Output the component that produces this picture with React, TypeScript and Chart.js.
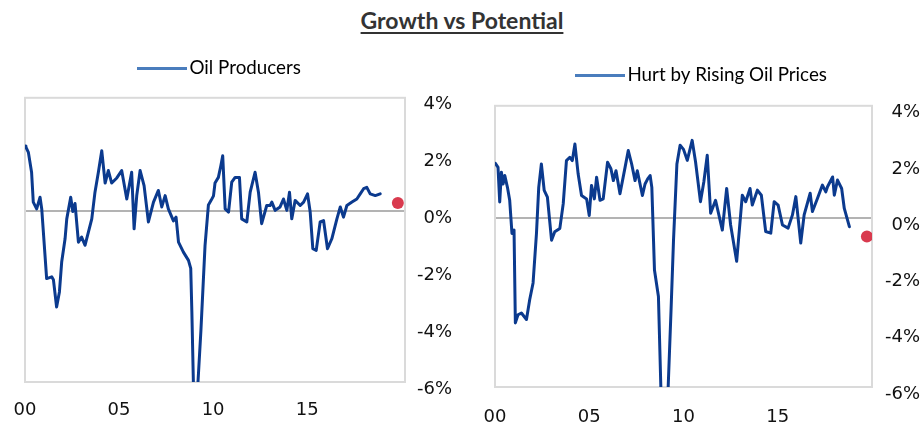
import React, { useEffect, useRef } from 'react';
import { Chart, registerables } from 'chart.js';

Chart.register(...registerables);

// ---- data ----
const TITLE = 'Growth vs Potential';
const X_TICK_YEARS = [2000, 2005, 2010, 2015];
const Y_MIN = -6;
const Y_MAX = 4;

const OIL_LABEL = 'Oil Producers';
// years since 2000
const oilT = [0.0, 0.05, 0.18, 0.35, 0.44, 0.62, 0.8, 0.89, 1.15, 1.42, 1.51, 1.68, 1.83, 1.95, 2.13, 2.22, 2.43, 2.54, 2.66, 2.84, 3.01, 3.19, 3.55, 3.72, 3.9, 4.08, 4.26, 4.43, 4.61, 4.88, 5.14, 5.41, 5.67, 5.8, 5.94, 6.12, 6.33, 6.56, 6.83, 7.09, 7.27, 7.45, 7.62, 7.89, 8.03, 8.16, 8.42, 8.69, 8.81, 8.87, 8.96, 9.17, 9.35, 9.57, 9.75, 9.9, 10.02, 10.1, 10.28, 10.41, 10.51, 10.64, 10.82, 10.99, 11.17, 11.4, 11.52, 11.79, 11.97, 12.23, 12.41, 12.58, 12.85, 13.03, 13.12, 13.3, 13.56, 13.74, 13.92, 14.06, 14.18, 14.36, 14.63, 14.81, 15.02, 15.16, 15.3, 15.48, 15.69, 15.87, 16.08, 16.31, 16.58, 16.76, 16.93, 17.11, 17.38, 17.64, 17.82, 18.0, 18.17, 18.35, 18.62, 18.88];
const oilV = [2.3, 2.26, 2.08, 1.38, 0.33, 0.09, 0.5, 0.09, -2.36, -2.3, -2.4, -3.36, -2.83, -1.78, -0.96, -0.26, 0.5, 0.0, 0.28, -1.08, -0.9, -1.19, -0.26, 0.68, 1.38, 2.14, 1.0, 1.44, 1.0, 1.18, 1.44, 0.44, 1.38, -0.61, 0.56, 1.44, 0.91, -0.37, 0.33, 0.74, 0.16, 0.56, 0.09, -0.33, -0.2, -1.08, -1.43, -1.72, -2.0, -3.53, -6.3, -6.3, -4.2, -1.2, 0.23, 0.4, 0.55, 1.0, 1.2, 1.61, 1.96, 0.09, -0.02, 1.03, 1.2, 1.2, -0.26, -0.37, 0.68, 1.38, 0.68, -0.43, 0.21, 0.21, 0.33, 0.04, 0.16, 0.44, 0.04, 0.68, -0.26, 0.39, 0.21, 0.33, 0.62, -0.02, -1.31, -1.37, -0.37, -0.32, -1.31, -0.96, -0.26, 0.16, -0.2, 0.21, 0.33, 0.44, 0.62, 0.8, 0.85, 0.62, 0.56, 0.62];
const oilDotT = [19.82];
const oilDotV = [0.3];

const HURT_LABEL = 'Hurt by Rising Oil Prices';
const hurtT = [0.02, 0.16, 0.25, 0.34, 0.43, 0.52, 0.66, 0.78, 0.9, 1.01, 1.08, 1.22, 1.4, 1.67, 1.84, 2.02, 2.2, 2.32, 2.46, 2.61, 2.78, 3.0, 3.17, 3.44, 3.62, 3.79, 3.97, 4.1, 4.24, 4.41, 4.59, 4.86, 5.0, 5.12, 5.27, 5.39, 5.57, 5.74, 5.97, 6.15, 6.28, 6.42, 6.63, 6.9, 7.07, 7.25, 7.43, 7.55, 7.82, 7.96, 8.1, 8.23, 8.32, 8.46, 8.67, 8.81, 9.17, 9.34, 9.47, 9.65, 9.82, 10.0, 10.2, 10.46, 10.64, 10.9, 11.08, 11.26, 11.44, 11.7, 12.06, 12.29, 12.5, 12.82, 13.12, 13.3, 13.53, 13.65, 13.92, 14.13, 14.36, 14.63, 14.81, 15.02, 15.25, 15.55, 15.78, 15.96, 16.22, 16.4, 16.72, 16.84, 17.11, 17.37, 17.55, 17.64, 17.91, 18.0, 18.17, 18.39, 18.53, 18.8];
const hurtV = [1.95, 1.81, 0.58, 1.64, 1.22, 1.52, 1.1, 0.64, -0.54, -0.42, -3.72, -3.43, -3.37, -3.6, -2.9, -2.3, -0.54, 1.1, 1.93, 0.99, 0.75, -0.78, -0.48, -0.36, 0.52, 2.05, 2.17, 2.05, 2.64, 1.58, 0.81, 0.69, 0.1, 1.17, 0.69, 1.46, 0.64, 0.69, 1.99, 1.76, 1.34, 1.69, 0.87, 1.81, 2.41, 1.93, 1.34, 1.69, 0.81, 1.22, 1.4, 1.52, 1.1, -1.84, -2.78, -6.3, -6.3, -3.25, -0.78, 1.93, 2.6, 2.45, 2.06, 2.77, 2.0, 0.59, 1.3, 2.24, 0.18, 0.64, -0.42, 1.06, -0.24, -1.53, 0.82, 0.59, 1.06, 0.47, 1.0, 0.82, -0.47, -0.53, 0.59, 0.47, -0.24, -0.35, 0.12, 0.77, -0.88, 0.12, 0.89, 0.24, 0.71, 1.18, 0.94, 1.12, 1.47, 0.82, 1.36, 1.06, 0.35, -0.3];
const hurtDotT = [19.73];
const hurtDotV = [-0.65];

// ---- styles ----
const LINE_COLOR = '#0b3a8e';
const LEGEND_COLOR = '#4a7dbd';
const DOT_COLOR = '#d93a4e';
const TICK_FONT = { family: '"DejaVu Sans", sans-serif', size: 18 };
const LEGEND_FONT = { family: 'Lato, sans-serif', size: 18.8 };

const framePlugin = {
  id: 'frame',
  beforeDatasetsDraw(chart: any) {
    const { ctx, chartArea } = chart;
    const { left, top, right, bottom } = chartArea;
    ctx.save();
    ctx.strokeStyle = '#dadada';
    ctx.lineWidth = 2;
    ctx.strokeRect(left, top, right - left, bottom - top);
    ctx.restore();
  },
};

const legendTweakPlugin = {
  id: 'legendTweak',
  beforeLayout(chart: any, _args: any, opts: any) {
    const lg = chart.legend;
    if (lg && !lg.__patched) {
      const orig = lg.fit.bind(lg);
      lg.fit = function () {
        orig();
        this.height += opts.extraHeight || 0;
      };
      lg.__patched = true;
    }
  },
  afterLayout(chart: any, _args: any, opts: any) {
    const lg = chart.legend;
    if (lg) {
      lg.left += opts.dx || 0;
      lg.right += opts.dx || 0;
    }
  },
};

type PanelProps = {
  label: string;
  t: number[];
  v: number[];
  dotT: number[];
  dotV: number[];
  left: number;
  top: number;
  width: number;
  height: number;
  padLeft: number;
  padRight: number;
  yWidth: number;
  xHeight: number;
  xMax: number;
  xPad: number;
  legendPad: number;
  legendExtra: number;
  legendDx: number;
};

function Panel(p: PanelProps) {
  const ref = useRef<HTMLCanvasElement | null>(null);
  useEffect(() => {
    if (!ref.current) return;
    const points = p.t.map((tt, i) => ({ x: 2000 + tt, y: p.v[i] }));
    const dots = p.dotT.map((tt, i) => ({ x: 2000 + tt, y: p.dotV[i] }));
    const swatch = document.createElement('canvas');
    swatch.width = 50;
    swatch.height = 3;
    const sctx = swatch.getContext('2d');
    if (sctx) {
      sctx.fillStyle = LEGEND_COLOR;
      sctx.fillRect(0, 0, 50, 3);
    }
    const chart = new Chart(ref.current, {
      type: 'line',
      data: {
        datasets: [
          {
            label: p.label,
            data: points,
            borderColor: LINE_COLOR,
            backgroundColor: LINE_COLOR,
            borderWidth: 3,
            pointRadius: 0,
            tension: 0,
            borderJoinStyle: 'round',
            borderCapStyle: 'round',
          },
          {
            label: 'dot',
            data: dots,
            showLine: false,
            pointRadius: 6,
            pointBackgroundColor: DOT_COLOR,
            pointBorderWidth: 0,
            borderColor: DOT_COLOR,
            backgroundColor: DOT_COLOR,
          },
        ],
      },
      options: {
        responsive: false,
        animation: false,
        devicePixelRatio: 1,
        layout: { padding: { left: p.padLeft, top: 0, right: p.padRight, bottom: 0 } },
        plugins: {
          title: { display: false },
          tooltip: { enabled: false },
          legendTweak: { extraHeight: p.legendExtra, dx: p.legendDx },
          legend: {
            display: true,
            position: 'top',
            labels: {
              usePointStyle: true,
              pointStyleWidth: 36,
              boxHeight: 18,
              padding: p.legendPad,
              color: '#111',
              font: LEGEND_FONT,
              generateLabels: () => [
                {
                  text: p.label,
                  fillStyle: LEGEND_COLOR,
                  strokeStyle: LEGEND_COLOR,
                  lineWidth: 0,
                  hidden: false,
                  datasetIndex: 0,
                  pointStyle: swatch,
                },
              ],
            },
          },
        },
        scales: {
          x: {
            type: 'linear',
            min: 2000,
            max: p.xMax,
            grid: { display: false },
            border: { display: false },
            afterBuildTicks: (scale: any) => {
              scale.ticks = X_TICK_YEARS.map((y) => ({ value: y }));
            },
            afterFit: (scale: any) => {
              scale.height = p.xHeight;
            },
            ticks: {
              color: '#111',
              font: TICK_FONT,
              padding: p.xPad,
              maxRotation: 0,
              callback: (val: any) => String(Math.round(Number(val)) % 100).padStart(2, '0'),
            },
          },
          y: {
            position: 'right',
            min: Y_MIN,
            max: Y_MAX,
            grid: {
              drawTicks: false,
              lineWidth: 2,
              color: (ctx: any) => (ctx.tick && ctx.tick.value === 0 ? '#b3b3b3' : 'rgba(0,0,0,0)'),
            },
            border: { display: true, color: '#c4c4c4', width: 2 },
            afterFit: (scale: any) => {
              scale.width = p.yWidth;
            },
            ticks: {
              stepSize: 2,
              color: '#111',
              font: TICK_FONT,
              padding: 8,
              crossAlign: 'far',
              labelOffset: 7,
              callback: (val: any) => `${val}%`,
            },
          },
        },
      },
      plugins: [framePlugin, legendTweakPlugin],
    } as any);
    return () => chart.destroy();
  }, []);
  return (
    <canvas
      ref={ref}
      width={p.width}
      height={p.height}
      style={{ position: 'absolute', left: p.left, top: p.top, width: p.width, height: p.height }}
    />
  );
}

export default function App() {
  return (
    <div style={{ position: 'absolute', left: 0, top: 0, width: 924, height: 427, background: '#fff', overflow: 'hidden' }}>
      <div
        style={{
          position: 'absolute',
          left: 0,
          top: 6,
          width: 924,
          textAlign: 'center',
          fontFamily: 'Lato, sans-serif',
          fontWeight: 700,
          fontSize: 23,
          color: '#333',
          textDecoration: 'underline',
          textDecorationThickness: 2,
          textUnderlineOffset: 3,
        }}
      >
        {TITLE}
      </div>
      <Panel
        label={OIL_LABEL}
        t={oilT}
        v={oilV}
        dotT={oilDotT}
        dotV={oilDotV}
        left={0}
        top={40}
        width={460}
        height={387}
        padLeft={25}
        padRight={8}
        yWidth={47}
        xHeight={45}
        xMax={2020.2}
        xPad={10}
        legendPad={19}
        legendExtra={10}
        legendDx={-16}
      />
      <Panel
        label={HURT_LABEL}
        t={hurtT}
        v={hurtV}
        dotT={hurtDotT}
        dotV={hurtDotV}
        left={460}
        top={46}
        width={464}
        height={381}
        padLeft={35}
        padRight={4}
        yWidth={48}
        xHeight={40}
        xMax={2020}
        xPad={12}
        legendPad={20}
        legendExtra={11}
        legendDx={-3}
      />
    </div>
  );
}
